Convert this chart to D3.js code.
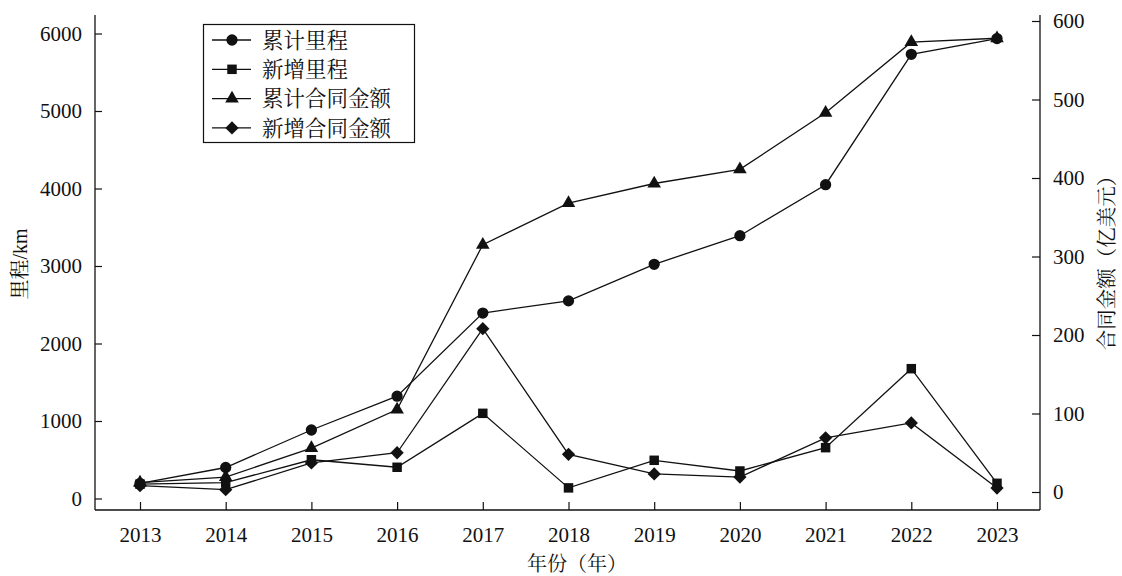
<!DOCTYPE html>
<html><head><meta charset="utf-8">
<script src="https://cdn.jsdelivr.net/npm/d3@7/dist/d3.min.js"></script>
<style>
body{margin:0;background:#fff;}
svg{display:block;}
</style></head>
<body>
<svg id="chart" width="1122" height="576"></svg>
<script>
const years = [2013,2014,2015,2016,2017,2018,2019,2020,2021,2022,2023];
const cumMileage = [195, 400, 884, 1320, 2393, 2550, 3022, 3391, 4049, 5731, 5935];
const newMileage = [185, 205, 500, 403, 1099, 137, 493, 355, 656, 1675, 196];
const cumContract = [12, 19, 56, 105, 315, 368, 393, 411, 483, 573, 578];
const newContract = [8, 3, 37, 50, 208, 48, 23, 19, 69, 88, 5];
const leftTicks = [0,1000,2000,3000,4000,5000,6000];
const rightTicks = [0,100,200,300,400,500,600];
const seriesNames = ["累计里程","新增里程","累计合同金额","新增合同金额"];
const xTitle = "年份（年）";
const yLeftTitle = "里程/km";
const yRightTitle = "合同金额（亿美元）";

const svg = d3.select("#chart");
const L = 95, R = 1040, T = 15, B = 510;
const numFont = "'Liberation Serif','Times New Roman',serif";
const cjkFont = "'Liberation Serif','Noto Serif CJK SC','Noto Sans CJK SC',serif";
const ink = "#111";

const x = d3.scaleLinear().domain([2013,2023]).range([140,997]);
const yL = d3.scaleLinear().domain([0,6000]).range([498.5,33.5]);
const yR = d3.scaleLinear().domain([0,600]).range([492,21]);

// axes lines
svg.append("line").attr("x1",L).attr("x2",L).attr("y1",T).attr("y2",B).attr("stroke",ink).attr("stroke-width",1.3);
svg.append("line").attr("x1",R).attr("x2",R).attr("y1",T).attr("y2",B).attr("stroke",ink).attr("stroke-width",1.3);
svg.append("line").attr("x1",L).attr("x2",R).attr("y1",B).attr("y2",B).attr("stroke",ink).attr("stroke-width",1.3);

function styleAxis(g){
  g.select(".domain").remove();
  g.selectAll(".tick line").attr("stroke",ink).attr("stroke-width",1.2);
  g.selectAll(".tick text").attr("fill",ink).style("font-family",numFont).style("font-size","21px");
}
svg.append("g").attr("transform",`translate(${L},0)`)
  .call(d3.axisLeft(yL).tickValues(leftTicks).tickSizeInner(-7).tickSizeOuter(0).tickPadding(13).tickFormat(d3.format("d")))
  .call(styleAxis);
svg.append("g").attr("transform",`translate(${R},0)`)
  .call(d3.axisRight(yR).tickValues(rightTicks).tickSizeInner(-8).tickSizeOuter(0).tickPadding(13).tickFormat(d3.format("d")))
  .call(styleAxis);
svg.append("g").attr("transform",`translate(0,${B})`)
  .call(d3.axisBottom(x).tickValues(years).tickSizeInner(-8).tickSizeOuter(0).tickPadding(17).tickFormat(d3.format("d")))
  .call(styleAxis);

// titles
svg.append("text").attr("x",577).attr("y",571).attr("text-anchor","middle")
  .style("font-family",cjkFont).style("font-size","20px").attr("fill",ink).text(xTitle);
svg.append("text").attr("transform","translate(27,264) rotate(-90)").attr("text-anchor","middle")
  .style("font-family",cjkFont).style("font-size","20px").attr("fill",ink).text(yLeftTitle);
svg.append("text").attr("transform","translate(1114,258) rotate(-90)").attr("text-anchor","middle")
  .style("font-family",cjkFont).style("font-size","20.5px").attr("fill",ink).text(yRightTitle);

// markers
const sq = d3.symbol().type(d3.symbolSquare);
const sym = {
  circle: () => d3.symbol().type(d3.symbolCircle).size(100)(),
  square: () => sq.size(90)(),
  triangle: () => d3.symbol().type(d3.symbolTriangle).size(80)(),
  diamond: () => sq.size(88)()
};
const rot = {circle:0, square:0, triangle:0, diamond:45};
const series = [
  {name:seriesNames[0], vals:cumMileage, y:yL, shape:"circle"},
  {name:seriesNames[1], vals:newMileage, y:yL, shape:"square"},
  {name:seriesNames[2], vals:cumContract, y:yR, shape:"triangle"},
  {name:seriesNames[3], vals:newContract, y:yR, shape:"diamond"}
];
const line = d3.line();
series.forEach(s=>{
  const pts = years.map((yr,i)=>[x(yr), s.y(s.vals[i])]);
  svg.append("path").attr("d",line(pts)).attr("fill","none").attr("stroke",ink).attr("stroke-width",1.3);
});
series.forEach(s=>{
  svg.append("g").selectAll("path").data(years).join("path")
    .attr("transform",(yr,i)=>`translate(${x(yr)},${s.y(s.vals[i])}) rotate(${rot[s.shape]})`)
    .attr("d",sym[s.shape]()).attr("fill",ink);
});

// legend
const lg = svg.append("g");
lg.append("rect").attr("x",203.5).attr("y",24.5).attr("width",211).attr("height",118)
  .attr("fill","#fff").attr("stroke",ink).attr("stroke-width",1.2);
series.forEach((s,i)=>{
  const yy = 40 + i*29.3;
  lg.append("line").attr("x1",212).attr("x2",251).attr("y1",yy).attr("y2",yy).attr("stroke",ink).attr("stroke-width",1.3);
  lg.append("path").attr("transform",`translate(232,${yy}) rotate(${rot[s.shape]})`).attr("d",sym[s.shape]()).attr("fill",ink);
  lg.append("text").attr("x",262).attr("y",yy).attr("dy","0.36em")
    .style("font-family",cjkFont).style("font-size","21.5px").attr("fill",ink).text(s.name);
});
</script>
</body></html>
